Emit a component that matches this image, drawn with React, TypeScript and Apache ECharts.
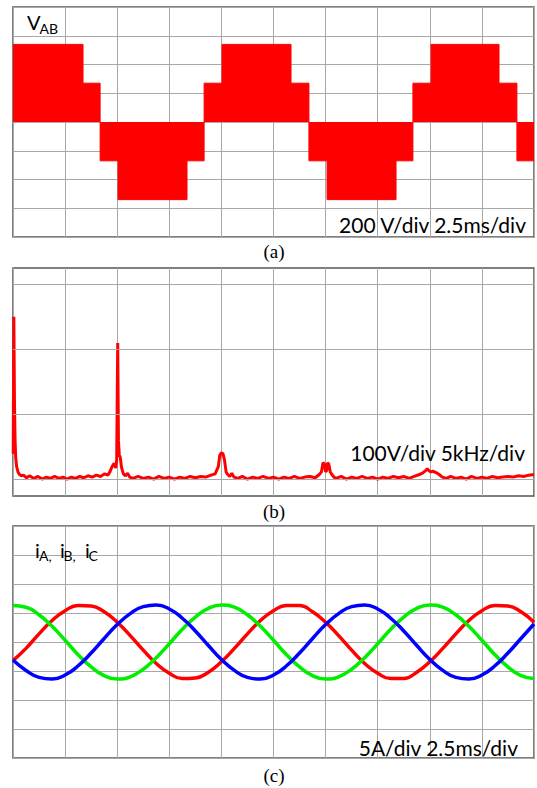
import React, { useEffect, useRef } from "react";
import * as echarts from "echarts";

// Panel (a): V_AB step envelope (ms, V)
const vabTime = [0, 3.36, 4.18, 5.04, 8.35, 9.17, 10.03, 13.34, 14.2, 15.07, 18.38, 19.19, 20.06, 23.32, 24.18, 25];
const vabLevel = [540, 270, -270, -540, -270, 270, 540, 270, -270, -540, -270, 270, 540, 270, -270, -270];

// Panel (b): spectrum (kHz, V)
const specFreq = [
  0.02, 0.08, 0.14, 0.2, 0.26, 0.35, 0.48, 0.62, 0.8, 1.0, 1.3, 1.6, 2.0, 2.4, 2.8, 3.2, 3.6, 4.0, 4.4, 4.8,
  5.2, 5.6, 6.0, 6.4, 6.8, 7.2, 7.6, 8.0, 8.4, 8.8, 9.1, 9.3, 9.5, 9.7, 9.85, 9.95, 10.05, 10.12, 10.2, 10.3,
  10.4, 10.5, 10.6, 10.8, 11.0, 11.2, 11.5, 12.0, 12.5, 13.0, 13.5, 14.0, 14.5, 15.0, 15.5, 16.0, 16.5, 17.0, 17.5, 18.0,
  18.5, 19.0, 19.4, 19.7, 19.85, 20.0, 20.15, 20.3, 20.45, 20.6, 20.8, 21.0, 21.2, 21.6, 22.0, 22.5, 23.0, 23.5, 24.0, 24.5,
  25.0, 25.5, 26.0, 26.5, 27.0, 27.5, 28.0, 28.5, 29.0, 29.4, 29.6, 29.75, 29.9, 30.0, 30.1, 30.2, 30.3, 30.45, 30.6, 30.8,
  31.0, 31.5, 32.0, 32.5, 33.0, 33.5, 34.0, 34.5, 35.0, 35.5, 36.0, 36.5, 37.0, 37.5, 38.0, 38.5, 39.0, 39.3, 39.6, 39.75,
  39.9, 40.1, 40.3, 40.6, 40.9, 41.2, 41.6, 42.0, 42.5, 43.0, 43.5, 44.0, 44.5, 45.0, 45.5, 46.0, 46.5, 47.0, 47.5, 48.0,
  48.5, 49.0, 49.5, 50.0,
];
const specAmp = [
  40, 250, 120, 60, 34, 20, 12, 8, 6, 7, 3, 6, 2, 5, 1, 4, 2, 5, 2, 4,
  1, 4, 2, 5, 3, 6, 4, 7, 5, 9, 7, 12, 20, 25, 18, 30, 210, 60, 38, 34,
  20, 14, 9, 6, 10, 4, 2, 5, 2, 4, 1, 5, 2, 4, 1, 4, 2, 5, 3, 5,
  4, 7, 9, 20, 38, 41, 40, 30, 12, 8, 5, 10, 4, 2, 5, 1, 4, 2, 5, 2,
  4, 1, 4, 2, 5, 2, 4, 5, 3, 8, 12, 26, 24, 12, 14, 26, 24, 12, 8, 4,
  2, 5, 1, 4, 2, 5, 2, 4, 1, 4, 2, 5, 3, 5, 2, 5, 8, 10, 14, 17,
  14, 12, 13, 11, 8, 4, 2, 5, 2, 4, 1, 5, 2, 4, 2, 5, 3, 4, 5, 4,
  6, 5, 7, 8,
];

// Panel (c): phase currents (ms, A), sampled every 0.625 ms
const tMs = [
  0, 0.625, 1.25, 1.875, 2.5, 3.125, 3.75, 4.375, 5, 5.625, 6.25, 6.875, 7.5, 8.125, 8.75, 9.375,
  10, 10.625, 11.25, 11.875, 12.5, 13.125, 13.75, 14.375, 15, 15.625, 16.25, 16.875, 17.5, 18.125, 18.75, 19.375,
  20, 20.625, 21.25, 21.875, 22.5, 23.125, 23.75, 24.375, 25,
];
const iaVal = [
  -3.2, -1.1, 1.4, 3.7, 5.4, 6.3, 6.2, 5.2, 3.4, 1.1, -1.4, -3.7, -5.4, -6.3, -6.2, -5.2,
  -3.4, -1.1, 1.4, 3.7, 5.4, 6.3, 6.3, 5.2, 3.4, 1.1, -1.4, -3.7, -5.4, -6.3, -6.3, -5.2,
  -3.4, -1.1, 1.4, 3.7, 5.4, 6.3, 6.2, 5.2, 3.4,
];
const ibVal = [
  -3.1, -4.9, -6.1, -6.4, -5.7, -4.1, -1.9, 0.6, 3.0, 4.9, 6.1, 6.4, 5.7, 4.1, 1.9, -0.6,
  -3.0, -4.9, -6.1, -6.4, -5.7, -4.1, -1.9, 0.6, 3.0, 4.9, 6.1, 6.4, 5.7, 4.1, 1.9, -0.6,
  -3.0, -4.9, -6.1, -6.4, -5.7, -4.1, -1.9, 0.6, 3.1,
];
const icVal = [
  6.3, 6.0, 4.7, 2.7, 0.3, -2.2, -4.3, -5.8, -6.4, -6.0, -4.7, -2.7, -0.3, 2.2, 4.3, 5.8,
  6.4, 6.0, 4.7, 2.7, 0.3, -2.2, -4.3, -5.8, -6.4, -6.0, -4.7, -2.7, -0.3, 2.2, 4.3, 5.8,
  6.4, 6.0, 4.7, 2.7, 0.3, -2.2, -4.3, -5.8, -6.3,
];

const specGridLines = [0, 100, 200, 300];

const zip = (xs: number[], ys: number[]) => xs.map((x, i) => [x, ys[i]]);

const FONT = "Lato";
const GRID_COLOR = "#a8a8a8";

function makeX(gridIndex: number, max: number, interval: number) {
  return {
    type: "value",
    gridIndex,
    min: 0,
    max,
    interval,
    axisLine: { show: false },
    axisTick: { show: false },
    axisLabel: { show: false },
    splitLine: { show: true, lineStyle: { color: GRID_COLOR, width: 1 } },
  };
}
function makeY(gridIndex: number, min: number, max: number, interval: number | undefined, split: boolean) {
  const o: any = {
    type: "value",
    gridIndex,
    min,
    max,
    axisLine: { show: false },
    axisTick: { show: false },
    axisLabel: { show: false },
    splitLine: { show: split, lineStyle: { color: GRID_COLOR, width: 1 } },
  };
  if (interval !== undefined) o.interval = interval;
  return o;
}

export default function App() {
  const ref = useRef<HTMLDivElement>(null);
  useEffect(() => {
    if (!ref.current) return;
    const chart = echarts.init(ref.current, null, { renderer: "svg" });
    const gridBase = { show: true, borderColor: "#555", borderWidth: 1.5, backgroundColor: "#fff", left: 13, width: 521 };
    const txt = (x: number, y: number, text: string, size: number, align = "left", family = FONT) => ({
      type: "text",
      x,
      y,
      silent: true,
      z: 100,
      style: { text, fontSize: size, fontFamily: family, fill: "#000", align, verticalAlign: "middle" },
    });
    const currentLine = (vals: number[], color: string) => ({
      type: "line",
      xAxisIndex: 2,
      yAxisIndex: 2,
      data: zip(tMs, vals),
      smooth: true,
      showSymbol: false,
      lineStyle: { color, width: 3.5 },
      z: 3,
    });
    chart.setOption({
      animation: false,
      backgroundColor: "#fff",
      grid: [
        { ...gridBase, top: 7, height: 230 },
        { ...gridBase, top: 268, height: 228 },
        { ...gridBase, top: 526, height: 232 },
      ],
      xAxis: [makeX(0, 25, 2.5), makeX(1, 50, 5), makeX(2, 25, 2.5)],
      yAxis: [makeY(0, -800, 800, 200, true), makeY(1, -25, 325, undefined, false), makeY(2, -20, 20, 5, true)],
      series: [
        {
          type: "line",
          xAxisIndex: 0,
          yAxisIndex: 0,
          step: "end",
          data: zip(vabTime, vabLevel),
          showSymbol: false,
          lineStyle: { color: "#ff0000", width: 1 },
          areaStyle: { color: "#ff0000", opacity: 1 },
          z: 3,
        },
        {
          type: "line",
          xAxisIndex: 1,
          yAxisIndex: 1,
          data: [[0, -100]],
          showSymbol: false,
          lineStyle: { opacity: 0 },
          z: 1,
          markLine: {
            silent: true,
            symbol: "none",
            label: { show: false },
            lineStyle: { color: GRID_COLOR, type: "solid", width: 1 },
            data: specGridLines.map((v) => ({ yAxis: v })),
          },
        },
        {
          type: "line",
          xAxisIndex: 1,
          yAxisIndex: 1,
          data: zip(specFreq, specAmp),
          showSymbol: false,
          lineStyle: { color: "#ff0000", width: 3 },
          z: 3,
        },
        currentLine(iaVal, "#ff0000"),
        currentLine(icVal, "#00ee00"),
        currentLine(ibVal, "#0000ff"),
      ],
      graphic: [
        txt(27, 22, "V", 20),
        txt(39.5, 28, "AB", 14),
        txt(526, 224, "200 V/div 2.5ms/div", 21, "right"),
        txt(274, 251, "(a)", 19, "center", "Liberation Serif"),
        txt(525, 452, "100V/div 5kHz/div", 21, "right"),
        txt(274, 511, "(b)", 19, "center", "Liberation Serif"),
        txt(35, 550, "i", 20),
        txt(39, 555, "A,", 14),
        txt(60, 550, "i", 20),
        txt(63.5, 555, "B,", 14),
        txt(85, 550, "i", 20),
        txt(88.5, 555, "C", 14),
        txt(518, 747, "5A/div 2.5ms/div", 21, "right"),
        txt(274, 775, "(c)", 19, "center", "Liberation Serif"),
      ],
    });
    return () => chart.dispose();
  }, []);
  return (
    <div
      ref={ref}
      style={{ position: "fixed", left: 0, top: 0, width: 537, height: 788, background: "#fff" }}
    />
  );
}
